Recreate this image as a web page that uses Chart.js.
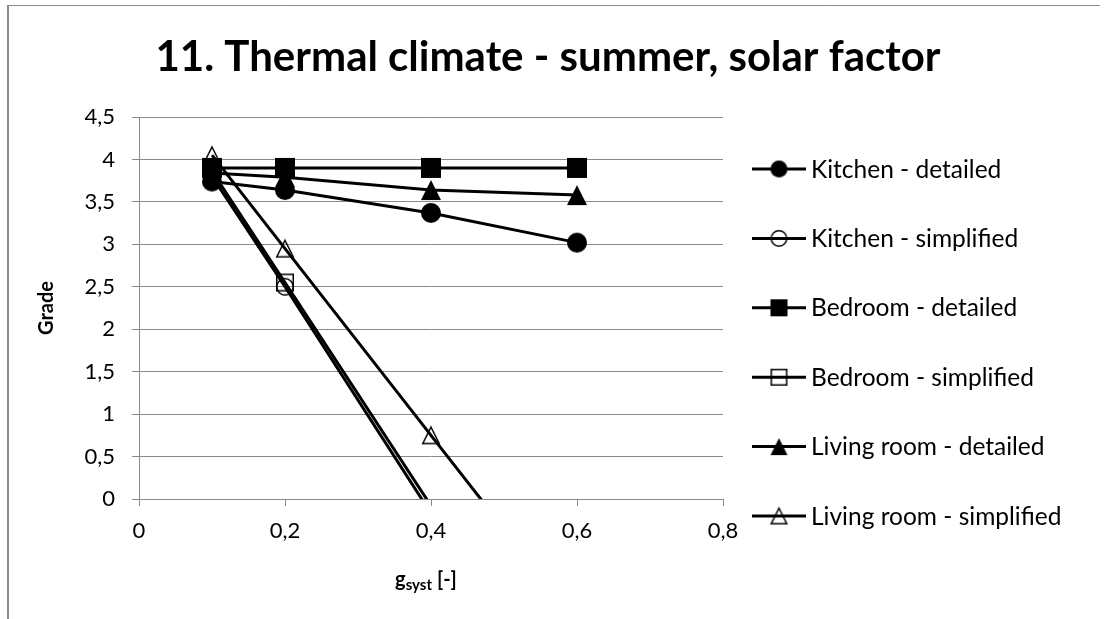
<!DOCTYPE html>
<html>
<head>
<meta charset="utf-8">
<script src="https://cdn.jsdelivr.net/npm/chart.js@4.4.1/dist/chart.umd.min.js"></script>
<style>
  html, body { margin: 0; padding: 0; background: #fff; }
  #wrap { width: 1110px; height: 619px; position: relative; }
</style>
</head>
<body>
<div id="wrap"><canvas id="chart" width="1110" height="619"></canvas></div>
<script>
// Solar factor g_syst [-] at which each room was evaluated
const xValues = [0.1, 0.2, 0.4, 0.6];

// Grades per room and method
const kitchenDetailed   = [3.74, 3.64, 3.37, 3.02];
const kitchenSimplified = [3.80, 2.50, -0.17];
const bedroomDetailed   = [3.90, 3.90, 3.90, 3.90];
const bedroomSimplified = [3.86, 2.55, -0.08];
const livingDetailed    = [3.84, 3.79, 3.64, 3.58];
const livingSimplified  = [4.05, 2.95, 0.75, -1.45];

const seriesNames = [
  'Kitchen - detailed', 'Kitchen - simplified',
  'Bedroom - detailed', 'Bedroom - simplified',
  'Living room - detailed', 'Living room - simplified'
];

const xTickLabels = ['0', '0,2', '0,4', '0,6', '0,8'];
const yTickLabels = ['0', '0,5', '1', '1,5', '2', '2,5', '3', '3,5', '4', '4,5'];

const chartTitle = '11. Thermal climate - summer, solar factor';
const yTitle = 'Grade';

const GRID = '#8a8a8a';
const FONT = 'Lato, "Open Sans", sans-serif';

// Marker glyphs: filled or outline-only (transparent inside)
function makeMarker(shape, filled, size) {
  const pad = 2;
  const c = document.createElement('canvas');
  c.width = c.height = size + pad * 2;
  const g = c.getContext('2d');
  const m = c.width / 2;
  const h = filled ? size / 2 : size / 2 - 0.75;
  g.beginPath();
  if (shape === 'circle') {
    g.arc(m, m, h, 0, Math.PI * 2);
  } else if (shape === 'rect') {
    g.rect(m - h, m - h, 2 * h, 2 * h);
  } else {
    g.moveTo(m, m - h);
    g.lineTo(m + h, m + h);
    g.lineTo(m - h, m + h);
    g.closePath();
  }
  if (filled) {
    g.fillStyle = '#000';
    g.fill();
  } else {
    g.lineWidth = 1.5;
    g.strokeStyle = '#000';
    g.stroke();
  }
  return c;
}

const shapes = ['circle', 'circle', 'rect', 'rect', 'triangle', 'triangle'];
const filledFlags = [true, false, true, false, true, false];
const seriesValues = [kitchenDetailed, kitchenSimplified, bedroomDetailed,
                      bedroomSimplified, livingDetailed, livingSimplified];

const plotMarkers = shapes.map((s, i) => makeMarker(s, filledFlags[i], filledFlags[i] ? 20 : 18));
const legendMarkers = shapes.map((s, i) => makeMarker(s, filledFlags[i], 17));

const datasets = seriesValues.map((vals, i) => ({
  label: seriesNames[i],
  data: vals.map((y, k) => ({ x: xValues[k], y })),
  showLine: true,
  borderColor: '#000',
  borderWidth: 3,
  // points below the axis minimum get no marker; only their line segment shows
  pointStyle: (c) => (c.raw && c.raw.y < 0 ? false : plotMarkers[i]),
  pointRadius: 10,
  pointHoverRadius: 10,
  backgroundColor: '#000',
  order: seriesValues.length - i,
  clip: { left: 10, top: 20, right: 10, bottom: 0 }
}));

// Frame, title, legend and the x-axis title (with subscript)
const decorations = {
  id: 'decorations',
  beforeDraw(chart) {
    const ctx = chart.ctx;
    ctx.save();
    ctx.fillStyle = '#fff';
    ctx.fillRect(0, 0, chart.width, chart.height);
    ctx.strokeStyle = GRID;
    ctx.lineWidth = 1;
    ctx.beginPath();
    ctx.moveTo(7, 5.5);
    ctx.lineTo(1100, 5.5);
    ctx.stroke();
    ctx.lineWidth = 2;
    ctx.beginPath();
    ctx.moveTo(8, 5);
    ctx.lineTo(8, chart.height);
    ctx.stroke();
    ctx.restore();
  },
  afterDraw(chart) {
    const ctx = chart.ctx;
    const area = chart.chartArea;
    ctx.save();
    ctx.fillStyle = '#000';

    // chart title
    ctx.font = 'bold 42px ' + FONT;
    ctx.textAlign = 'center';
    ctx.textBaseline = 'alphabetic';
    ctx.fillText(chartTitle, 548, 71);

    // x-axis title: g with subscript "syst", then [-]
    const bigFont = 'bold 20px ' + FONT;
    const subFont = 'bold 15px ' + FONT;
    ctx.textAlign = 'left';
    ctx.font = bigFont;
    const wg = ctx.measureText('g').width;
    const wb = ctx.measureText(' [-]').width;
    ctx.font = subFont;
    const ws = ctx.measureText('syst').width;
    let x = (area.left + area.right) / 2 - 5 - (wg + ws + wb) / 2;
    const base = 586;
    ctx.font = bigFont;
    ctx.fillText('g', x, base);
    x += wg;
    ctx.font = subFont;
    ctx.fillText('syst', x, base + 4);
    x += ws;
    ctx.font = bigFont;
    ctx.fillText(' [-]', x, base);

    // legend: line sample with marker, then name
    ctx.font = '24.5px ' + FONT;
    ctx.textBaseline = 'alphabetic';
    seriesNames.forEach((name, i) => {
      const y = 169 + i * 69.4;
      ctx.strokeStyle = '#000';
      ctx.lineWidth = 3;
      ctx.beginPath();
      ctx.moveTo(752, y);
      ctx.lineTo(806, y);
      ctx.stroke();
      const mk = legendMarkers[i];
      ctx.drawImage(mk, 779 - mk.width / 2, y - mk.height / 2);
      ctx.fillStyle = '#000';
      ctx.fillText(name, 811, y + 8.5);
    });
    ctx.restore();
  }
};

new Chart(document.getElementById('chart'), {
  type: 'scatter',
  data: { datasets },
  plugins: [decorations],
  options: {
    responsive: false,
    animation: false,
    events: [],
    layout: { padding: { left: 0, top: 117, right: 387, bottom: 0 } },
    plugins: {
      legend: { display: false },
      title: { display: false },
      tooltip: { enabled: false }
    },
    scales: {
      x: {
        type: 'linear',
        min: 0,
        max: 0.8,
        ticks: {
          stepSize: 0.2,
          color: '#000',
          font: { family: FONT, size: 22 },
          padding: 12,
          maxRotation: 0,
          callback: (v, i) => xTickLabels[i]
        },
        grid: { drawOnChartArea: false, drawTicks: true, tickLength: 7, color: GRID, lineWidth: 1 },
        border: { display: true, color: GRID, width: 1 },
        afterFit: (s) => { s.height = 120; }
      },
      y: {
        min: 0,
        max: 4.5,
        ticks: {
          stepSize: 0.5,
          color: '#000',
          font: { family: FONT, size: 22 },
          padding: 17,
          callback: (v, i) => yTickLabels[i]
        },
        grid: { drawTicks: true, tickLength: 7, color: GRID, lineWidth: 1 },
        border: { display: true, color: GRID, width: 1 },
        title: {
          display: true,
          text: yTitle,
          color: '#000',
          font: { family: FONT, size: 20, weight: 'bold' },
          padding: { top: 35, bottom: 0 }
        },
        afterFit: (s) => { s.width = 139; }
      }
    }
  }
});
</script>
</body>
</html>
